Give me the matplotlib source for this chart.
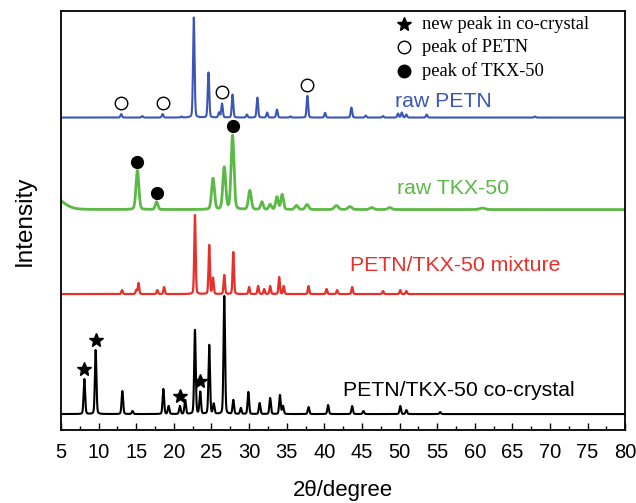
import numpy as np
import matplotlib
matplotlib.use("Agg")
import matplotlib.pyplot as plt
from matplotlib.ticker import MultipleLocator

plt.rcParams['font.family'] = ['Liberation Sans', 'DejaVu Sans']

# ---- data: peak positions (2theta), heights (a.u.), widths (deg) ----
petn_pos = [13.0, 15.8, 18.5, 21.0, 22.65, 24.6, 26.0, 26.4, 27.8, 29.7, 31.1, 32.4, 33.7,
            35.5, 37.75, 40.1, 43.6, 45.5, 47.8, 49.8, 50.3, 50.9, 53.6, 68.0]
petn_h = [3.5, 1.5, 3.5, 1.0, 100, 45, 5, 14, 23, 3, 20, 5, 8,
          1.2, 21.7, 4.7, 10, 2, 1.5, 4, 5, 3, 3, 1]

tkx_pos = [4.0, 15.15, 17.7, 25.2, 26.7, 27.8, 30.1, 31.7, 32.8, 33.7, 34.4, 36.3, 37.7,
           41.6, 43.4, 46.3, 48.7, 61.0]
tkx_h = [12, 39, 7.6, 31, 42, 74, 19, 7.6, 5, 12.6, 15, 4, 5,
         4, 3, 2, 2, 1.5]
tkx_w = [3.0, 0.45, 0.4, 0.45, 0.45, 0.45, 0.45, 0.4, 0.4, 0.4, 0.4, 0.5, 0.5,
         0.6, 0.6, 0.6, 0.6, 0.8]

mix_pos = [13.1, 15.0, 15.3, 17.8, 18.7, 22.8, 24.7, 25.2, 26.7, 27.9, 30.0, 31.2, 32.0,
           32.8, 34.0, 34.6, 37.9, 40.3, 41.7, 43.7, 47.8, 50.1, 50.9]
mix_h = [4, 4, 11, 4, 7, 79, 49, 16, 19, 42, 7, 8, 5,
         8, 17, 8, 8, 5, 4, 7, 3, 4, 3]

co_pos = [8.1, 9.6, 13.15, 14.5, 18.6, 19.3, 20.8, 21.5, 22.8, 23.5, 24.7, 25.3, 26.7,
          27.9, 28.9, 29.9, 31.4, 32.8, 34.1, 34.5, 37.9, 40.5, 43.7, 45.2, 50.1, 50.9, 55.4]
co_h = [35, 64, 23, 3, 25, 8, 8, 14, 84, 22, 69, 10, 118,
        14, 6, 22, 11, 16, 19, 8, 7, 9, 8, 3, 8, 4, 2]

new_peak_x = [8.1, 9.6, 20.8, 23.5]
petn_mark_x = [13.0, 18.5, 26.4, 37.75]
tkx_mark_x = [15.15, 17.7, 27.8]

labels = ["raw PETN", "raw TKX-50", "PETN/TKX-50 mixture", "PETN/TKX-50 co-crystal"]
colors = ["#3b56b6", "#5bb946", "#e8302a", "#000000"]

x_ticks = [5, 10, 15, 20, 25, 30, 35, 40, 45, 50, 55, 60, 65, 70, 75, 80]


def profile(x, pos, h, w):
    y = np.zeros_like(x)
    for p, a, s in zip(pos, h, w):
        g = np.exp(-4 * np.log(2) * ((x - p) / s) ** 2)
        l = 1.0 / (1 + ((x - p) / (s / 2)) ** 2)
        y += a * (0.8 * g + 0.2 * l)
    return y


x = np.linspace(5, 80, 7501)
offsets = [385.5, 293.5, 209.0, 89.0]
series = [
    profile(x, petn_pos, petn_h, [0.24] * len(petn_pos)),
    profile(x, tkx_pos, tkx_h, tkx_w),
    profile(x, mix_pos, mix_h, [0.22] * len(mix_pos)),
    profile(x, co_pos, co_h, [0.24] * len(co_pos)),
]
lws = [1.5, 2.0, 1.6, 1.5]

fig = plt.figure(figsize=(6.36, 5.03), dpi=100)
ax = fig.add_axes([0.096, 0.145, 0.887, 0.833])

for y, off, c, lw in zip(series, offsets, colors, lws):
    ax.plot(x, y + off, color=c, lw=lw, zorder=2)


def at(xs, grid, ys):
    return [ys[int(np.argmin(np.abs(grid - v)))] for v in xs]


# markers above peaks
yb = series[0] + offsets[0]
ax.plot(petn_mark_x, np.array(at(petn_mark_x, x, yb)) + 11, 'o', ms=9, mfc='white',
        mec='black', mew=1.0, zorder=3)
yg = series[1] + offsets[1]
ax.plot(tkx_mark_x, np.array(at(tkx_mark_x, x, yg)) + 9, 'o', ms=8.5, color='black', zorder=3)
yk = series[3] + offsets[3]
ax.plot(new_peak_x, np.array(at(new_peak_x, x, yk)) + 10, '*', ms=10, color='black', zorder=3)

# labels
lab_pos = [(49.4, 402), (49.7, 315), (43.4, 238), (42.5, 113)]
for (lx, ly), t, c in zip(lab_pos, labels, colors):
    ax.text(lx, ly, t, color=c, fontsize=15.3, ha='left', va='center')

# legend
leg_y = [479, 456, 432]
leg_txt = ["new peak in co-crystal", "peak of PETN", "peak of TKX-50"]
ax.plot([50.6], [leg_y[0]], '*', ms=10, color='black')
ax.plot([50.6], [leg_y[1]], 'o', ms=9, mfc='white', mec='black', mew=1.0)
ax.plot([50.6], [leg_y[2]], 'o', ms=9, color='black')
for ly, t in zip(leg_y, leg_txt):
    ax.text(53.0, ly, t, fontsize=13.3, family=['Liberation Serif', 'DejaVu Serif'],
            ha='left', va='center')

ax.set_xlim(5, 80)
ax.set_ylim(73, 492)
ax.set_xticks(x_ticks)
ax.xaxis.set_minor_locator(MultipleLocator(2.5))
ax.tick_params(axis='x', which='major', direction='in', length=5, width=1, labelsize=14.5,
               pad=9, top=False)
ax.tick_params(axis='x', which='minor', direction='in', length=3, width=1, top=False)
ax.set_yticks([])
for s in ax.spines.values():
    s.set_linewidth(1.3)
ax.set_xlabel("2θ/degree", fontsize=16, labelpad=13)
ax.set_ylabel("Intensity", fontsize=17.5, labelpad=18)

fig.savefig("out.png", dpi=100)
